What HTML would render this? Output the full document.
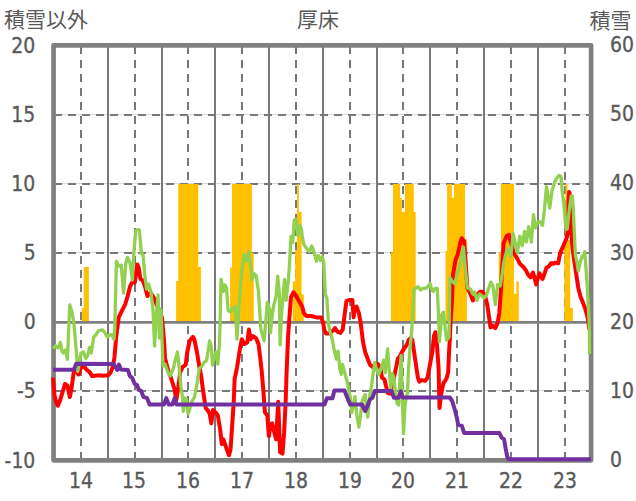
<!DOCTYPE html>
<html><head><meta charset="utf-8"><title>厚床</title>
<style>html,body{margin:0;padding:0;background:#fff;}body{width:636px;height:501px;position:relative;overflow:hidden;}</style>
</head><body>
<svg width="636" height="501" viewBox="0 0 636 501" style="position:absolute;left:0;top:0">
<line x1="56" y1="114.50" x2="589" y2="114.50" stroke="#d9d9d9" stroke-width="1"/>
<line x1="54" y1="115.00" x2="589" y2="115.00" stroke="#787878" stroke-width="2" stroke-dasharray="8 6"/>
<line x1="56" y1="183.50" x2="589" y2="183.50" stroke="#d9d9d9" stroke-width="1"/>
<line x1="54" y1="184.00" x2="589" y2="184.00" stroke="#787878" stroke-width="2" stroke-dasharray="8 6"/>
<line x1="56" y1="252.50" x2="589" y2="252.50" stroke="#d9d9d9" stroke-width="1"/>
<line x1="54" y1="253.00" x2="589" y2="253.00" stroke="#787878" stroke-width="2" stroke-dasharray="8 6"/>
<line x1="56" y1="390.50" x2="589" y2="390.50" stroke="#d9d9d9" stroke-width="1"/>
<line x1="54" y1="391.00" x2="589" y2="391.00" stroke="#787878" stroke-width="2" stroke-dasharray="8 6"/>
<line x1="81.00" y1="45.9" x2="81.00" y2="460" stroke="#787878" stroke-width="2" stroke-dasharray="8 6"/>
<line x1="135.00" y1="45.9" x2="135.00" y2="460" stroke="#787878" stroke-width="2" stroke-dasharray="8 6"/>
<line x1="108.00" y1="46" x2="108.00" y2="460" stroke="#787878" stroke-width="2"/>
<line x1="188.00" y1="45.9" x2="188.00" y2="460" stroke="#787878" stroke-width="2" stroke-dasharray="8 6"/>
<line x1="162.00" y1="46" x2="162.00" y2="460" stroke="#787878" stroke-width="2"/>
<line x1="242.00" y1="45.9" x2="242.00" y2="460" stroke="#787878" stroke-width="2" stroke-dasharray="8 6"/>
<line x1="215.00" y1="46" x2="215.00" y2="460" stroke="#787878" stroke-width="2"/>
<line x1="296.00" y1="45.9" x2="296.00" y2="460" stroke="#787878" stroke-width="2" stroke-dasharray="8 6"/>
<line x1="269.00" y1="46" x2="269.00" y2="460" stroke="#787878" stroke-width="2"/>
<line x1="350.00" y1="45.9" x2="350.00" y2="460" stroke="#787878" stroke-width="2" stroke-dasharray="8 6"/>
<line x1="323.00" y1="46" x2="323.00" y2="460" stroke="#787878" stroke-width="2"/>
<line x1="403.00" y1="45.9" x2="403.00" y2="460" stroke="#787878" stroke-width="2" stroke-dasharray="8 6"/>
<line x1="377.00" y1="46" x2="377.00" y2="460" stroke="#787878" stroke-width="2"/>
<line x1="457.00" y1="45.9" x2="457.00" y2="460" stroke="#787878" stroke-width="2" stroke-dasharray="8 6"/>
<line x1="430.00" y1="46" x2="430.00" y2="460" stroke="#787878" stroke-width="2"/>
<line x1="511.00" y1="45.9" x2="511.00" y2="460" stroke="#787878" stroke-width="2" stroke-dasharray="8 6"/>
<line x1="484.00" y1="46" x2="484.00" y2="460" stroke="#787878" stroke-width="2"/>
<line x1="565.00" y1="45.9" x2="565.00" y2="460" stroke="#787878" stroke-width="2" stroke-dasharray="8 6"/>
<line x1="538.00" y1="46" x2="538.00" y2="460" stroke="#787878" stroke-width="2"/>
<path d="M81.8,321.5 L81.8,308.0 L83.8,308.0 L83.8,267.0 L88.9,267.0 L88.9,321.5 Z" fill="#FFC000"/>
<path d="M176.1,321.5 L176.1,281.0 L178.2,281.0 L178.2,184.0 L198.2,184.0 L198.2,267.0 L200.9,267.0 L200.9,321.5 Z" fill="#FFC000"/>
<path d="M230.1,321.5 L230.1,267.4 L232.0,267.4 L232.0,184.0 L251.9,184.0 L251.9,253.0 L253.7,253.0 L253.7,321.5 Z" fill="#FFC000"/>
<path d="M292.8,321.5 L292.8,281.4 L295.2,281.4 L295.2,250.0 L297.1,250.0 L297.1,184.0 L298.9,184.0 L298.9,212.1 L301.6,212.1 L301.6,294.2 L303.8,294.2 L303.8,321.5 Z" fill="#FFC000"/>
<path d="M391.0,321.5 L391.0,252.4 L393.0,252.4 L393.0,184.0 L400.1,184.0 L400.1,198.0 L401.8,198.0 L401.8,211.9 L404.9,211.9 L404.9,184.0 L413.8,184.0 L413.8,211.9 L415.7,211.9 L415.7,321.5 Z" fill="#FFC000"/>
<path d="M445.5,321.5 L445.5,251.0 L447.1,251.0 L447.1,184.0 L451.8,184.0 L451.8,197.7 L454.1,197.7 L454.1,184.0 L465.0,184.0 L465.0,239.3 L466.9,239.3 L466.9,321.5 Z" fill="#FFC000"/>
<path d="M498.8,321.5 L498.8,252.2 L500.9,252.2 L500.9,184.0 L514.0,184.0 L514.0,293.7 L516.4,293.7 L516.4,281.4 L518.8,281.4 L518.8,321.5 Z" fill="#FFC000"/>
<path d="M564.3,321.5 L564.3,240.0 L565.4,240.0 L565.4,184.0 L567.5,184.0 L567.5,240.0 L570.2,240.0 L570.2,308.1 L572.9,308.1 L572.9,321.5 Z" fill="#FFC000"/>
<line x1="54" y1="322.40" x2="591" y2="322.40" stroke="#7f7f7f" stroke-width="2.8"/>
<rect x="53.55" y="45.3" width="537.55" height="415.05" fill="none" stroke="#808080" stroke-width="4.7" stroke-linejoin="round"/>
<polyline points="53.0,377.7 54.6,396.0 56.2,402.0 57.8,405.8 60.2,400.0 62.6,392.0 65.0,384.0 67.4,385.7 69.8,397.0 71.4,389.0 73.8,372.0 76.2,371.3 78.6,374.5 81.0,367.3 84.2,366.5 86.5,369.7 89.7,372.1 92.1,376.1 94.5,375.8 99.3,375.3 102.5,375.8 108.1,375.3 110.5,372.9 112.9,366.5 114.5,357.0 116.1,337.8 118.8,317.1 122.0,310.7 125.2,304.3 127.6,296.3 130.0,286.7 132.4,281.9 134.8,282.7 137.2,264.4 138.6,267.4 140.4,278.8 142.7,280.4 145.1,286.7 147.4,296.0 150.6,293.0 153.8,297.7 157.0,305.7 159.4,310.5 162.0,318.0 164.0,340.0 165.0,358.0 168.0,370.0 171.0,378.0 174.5,389.0 176.3,400.0 178.0,390.0 180.1,372.7 182.5,367.1 185.7,364.7 187.3,352.0 189.7,340.8 192.9,336.8 194.5,340.0 196.9,352.0 199.3,366.3 200.9,374.3 203.3,392.0 205.7,408.2 207.5,410.0 209.7,413.8 211.3,423.3 213.0,410.0 215.4,412.2 217.8,415.4 220.2,429.7 221.8,444.1 223.4,439.3 226.6,448.9 229.0,455.3 230.6,448.9 232.2,425.0 233.8,401.0 234.6,379.1 237.0,367.9 239.4,352.0 241.8,339.2 244.2,344.0 247.3,342.4 248.9,329.6 250.5,339.2 252.9,336.0 256.1,338.4 258.5,344.0 260.1,356.7 261.7,371.1 263.3,390.0 264.9,412.2 267.3,415.4 268.9,436.1 270.5,425.0 272.1,423.3 274.5,432.9 276.1,439.3 278.2,401.8 280.1,452.1 282.5,453.7 284.1,432.9 285.7,401.0 286.5,375.0 288.1,336.0 289.4,318.0 291.0,297.1 293.4,292.3 295.8,295.5 299.0,301.1 302.2,306.7 303.8,312.8 306.2,316.0 311.0,316.0 314.1,316.8 317.3,317.6 321.3,317.6 322.9,322.0 324.5,330.4 326.1,333.5 329.3,333.5 334.1,329.6 335.0,328.1 337.4,331.7 340.4,332.9 342.8,329.3 344.6,314.9 346.4,301.2 349.4,300.0 352.4,300.0 353.6,317.3 354.8,307.8 356.6,306.6 359.0,313.7 360.7,323.3 363.1,342.5 365.2,352.2 367.6,358.5 370.0,364.9 373.2,367.3 375.6,364.1 378.0,364.1 380.4,368.1 382.0,377.7 384.4,379.3 386.0,385.7 387.6,392.9 390.0,393.7 393.9,377.7 396.3,366.5 397.9,358.5 399.5,357.0 401.9,352.2 404.3,348.2 406.7,345.0 409.1,339.4 410.7,337.8 412.3,340.0 413.9,350.6 415.5,361.7 417.9,377.7 419.5,381.7 421.9,380.1 425.1,380.9 427.5,377.7 429.9,364.9 432.3,352.2 434.0,336.0 435.4,332.2 437.0,344.9 438.6,368.9 439.5,408.0 441.0,395.0 443.4,383.3 446.6,378.5 448.2,372.1 449.0,352.9 449.8,340.1 450.6,321.0 452.0,300.0 453.0,275.0 455.4,260.6 457.8,254.2 460.2,243.0 461.8,238.2 464.1,241.4 465.5,260.0 467.3,287.7 470.5,294.1 472.9,300.5 476.0,296.0 480.1,291.7 482.5,291.7 484.9,294.9 487.3,305.0 488.9,316.2 490.5,327.4 492.9,325.8 495.3,328.2 497.7,322.6 499.3,313.0 500.9,290.9 502.0,270.0 503.6,243.3 506.6,236.1 509.0,234.9 511.4,244.5 513.8,252.9 516.8,257.7 519.8,263.7 523.4,267.0 525.8,270.1 528.2,274.9 530.6,277.3 533.0,272.5 534.6,278.1 536.2,284.5 537.8,278.1 539.4,273.3 542.6,278.9 544.1,274.9 546.5,267.7 548.9,266.2 551.3,263.0 553.7,263.8 555.0,262.6 558.2,263.3 560.2,252.9 563.4,245.8 566.7,238.0 568.2,230.0 568.6,200.0 569.1,192.0 569.7,193.0 570.1,210.0 571.1,230.0 572.3,246.0 574.0,259.0 576.2,274.0 578.3,287.9 580.4,296.3 583.2,303.3 585.3,308.9 587.3,315.9 588.7,324.2 589.4,329.8" fill="none" stroke="#FF0000" stroke-width="4" stroke-linejoin="round" stroke-linecap="butt"/>
<polyline points="53.0,348.5 55.4,345.8 58.0,348.0 60.4,342.5 62.0,351.0 63.4,353.0 65.5,350.0 67.4,359.3 69.8,305.0 72.0,312.0 74.0,324.0 75.4,341.0 77.0,360.0 77.8,371.3 79.5,362.0 81.0,353.0 83.4,352.0 85.7,358.5 87.5,356.0 89.7,347.4 91.3,353.0 93.7,337.0 96.1,334.6 98.5,330.6 102.5,329.8 105.0,333.0 107.3,337.0 109.7,334.6 112.0,335.0 114.0,339.4 114.8,328.3 116.4,261.2 118.8,266.0 121.2,265.2 123.6,293.1 125.7,264.0 127.4,257.4 130.2,263.4 132.4,280.0 134.0,250.0 135.8,230.6 137.0,229.8 139.4,229.8 141.4,253.8 143.0,254.6 145.0,277.0 146.6,289.0 148.5,284.0 151.0,292.0 153.0,310.0 154.6,346.0 156.0,320.0 158.0,295.0 159.4,338.0 161.0,310.0 163.0,366.0 165.0,364.0 167.0,370.0 170.0,376.0 173.0,369.5 175.3,360.0 177.5,352.0 179.3,368.0 180.9,387.0 182.5,396.7 183.3,411.4 184.9,397.8 186.5,400.0 188.1,413.8 189.5,410.0 191.3,402.6 194.5,397.0 196.9,384.0 199.3,368.7 201.7,366.3 204.1,362.3 206.5,360.7 209.7,340.8 211.3,347.0 212.5,365.0 214.6,355.0 216.2,352.0 217.8,364.0 219.4,344.0 220.2,320.0 221.0,279.3 223.4,291.3 225.0,285.0 226.5,288.0 228.2,310.5 230.6,312.0 233.0,308.0 235.4,306.5 237.0,339.0 239.4,301.0 241.8,270.6 244.2,254.6 246.5,261.0 249.0,251.4 250.5,264.2 252.1,280.1 254.2,273.8 256.1,275.4 258.5,291.3 260.9,329.6 264.1,340.8 265.5,325.0 267.3,302.5 269.7,308.9 270.5,332.8 271.5,321.0 273.7,305.7 276.1,296.1 277.7,276.2 279.3,293.0 280.1,344.8 281.7,312.0 283.3,293.0 284.6,279.5 286.2,300.3 288.6,277.9 289.7,261.0 291.0,236.4 292.6,242.8 294.4,220.0 296.2,219.3 297.8,235.3 300.2,225.7 301.5,230.0 302.2,236.4 303.8,244.4 307.0,249.2 309.4,251.6 311.8,246.0 314.1,252.4 316.5,261.2 318.1,255.6 320.5,260.4 322.1,256.4 323.7,262.0 325.3,293.9 326.9,298.7 328.5,324.0 330.1,332.0 331.7,336.7 334.1,349.5 336.5,359.1 338.1,351.1 339.7,368.7 341.3,374.3 342.5,364.5 344.5,371.9 346.9,380.8 350.1,396.7 351.7,412.7 354.9,396.7 356.5,412.7 358.9,427.1 360.5,415.9 362.1,401.5 362.8,399.4 365.2,394.6 367.6,417.0 370.0,394.6 371.6,385.7 373.2,372.9 374.8,362.5 376.4,369.7 378.8,374.5 381.2,368.1 383.6,360.1 385.2,372.9 387.6,349.0 390.7,388.9 392.3,373.7 393.9,377.7 395.5,394.0 397.1,403.3 398.7,405.0 401.1,355.4 403.5,433.7 405.1,404.2 407.5,393.0 408.3,372.9 409.9,349.0 411.5,333.0 413.0,310.0 413.8,290.0 415.7,288.3 418.1,286.7 420.5,290.0 422.9,288.3 425.3,288.3 427.7,286.7 430.1,283.5 431.5,289.0 433.3,291.5 434.9,288.3 437.3,288.3 438.9,325.0 439.4,341.7 441.8,314.6 443.4,312.2 446.6,340.1 449.0,337.0 449.8,277.3 452.2,281.3 454.6,283.7 457.0,274.9 460.2,263.8 463.4,247.0 465.5,270.0 467.3,287.7 470.5,289.3 472.9,294.1 474.5,292.0 476.9,300.5 479.3,294.1 481.7,295.7 484.1,298.1 486.5,294.9 490.8,282.1 492.9,286.1 495.3,304.5 497.7,284.5 500.1,286.1 502.0,275.0 503.6,263.7 505.4,255.3 507.8,248.1 510.8,256.5 513.2,233.7 517.4,252.9 519.8,236.1 522.2,245.7 524.6,231.3 526.3,242.1 528.7,226.6 531.4,242.1 533.5,214.6 535.3,227.8 537.7,222.4 540.1,221.8 542.5,225.4 544.3,211.0 546.5,186.6 548.1,197.0 549.7,208.1 552.1,190.6 554.5,182.6 556.9,177.8 559.3,175.4 560.9,176.2 562.2,191.0 563.8,203.8 566.0,229.0 567.2,229.0 569.5,208.0 571.3,196.0 572.3,196.0 573.4,210.0 574.3,232.0 575.3,255.0 577.0,262.0 578.3,271.2 580.4,261.4 582.2,256.1 583.5,257.0 584.8,251.6 585.9,267.0 587.3,287.9 588.7,313.0 589.4,330.0 589.6,354.0" fill="none" stroke="#92D050" stroke-width="3.3" stroke-linejoin="round" stroke-linecap="butt"/>
<polyline points="53.0,369.7 73.8,369.7 76.2,363.7 113.6,364.0 117.2,370.0 119.0,364.6 120.8,369.4 128.0,370.0 129.8,376.0 132.2,377.8 134.6,383.7 137.0,385.0 138.7,389.7 141.1,390.9 143.5,396.9 147.1,398.1 149.5,404.5 163.9,404.5 166.3,398.1 168.7,404.5 172.3,404.5 174.7,398.1 176.5,404.5 324.5,404.5 326.9,398.3 332.5,398.3 334.4,390.5 344.5,390.5 346.9,396.7 350.1,404.5 362.0,404.5 365.2,411.0 367.6,405.8 370.0,399.4 372.4,397.8 374.8,391.0 391.5,391.0 393.9,397.8 398.5,397.8 400.8,391.4 402.7,397.5 449.8,397.5 452.2,401.0 454.6,409.0 457.0,418.5 458.2,424.9 461.8,425.7 464.1,432.9 499.3,432.9 501.7,437.7 504.1,439.3 505.7,448.9 507.3,456.9 508.9,459.3 591.0,459.3" fill="none" stroke="#7030A0" stroke-width="4" stroke-linejoin="round" stroke-linecap="butt"/>
</svg>
<div style="color:#595959;position:absolute;white-space:nowrap;font-family:'DejaVu Sans Condensed','DejaVu Sans',sans-serif;font-stretch:condensed;font-size:22px;line-height:22px;-webkit-text-stroke:0.35px #595959;right:600.4px;top:34.5px;text-align:right;transform:scaleX(0.95);transform-origin:100% 50%">20</div>
<div style="color:#595959;position:absolute;white-space:nowrap;font-family:'DejaVu Sans Condensed','DejaVu Sans',sans-serif;font-stretch:condensed;font-size:22px;line-height:22px;-webkit-text-stroke:0.35px #595959;right:600.4px;top:103.7px;text-align:right;transform:scaleX(0.95);transform-origin:100% 50%">15</div>
<div style="color:#595959;position:absolute;white-space:nowrap;font-family:'DejaVu Sans Condensed','DejaVu Sans',sans-serif;font-stretch:condensed;font-size:22px;line-height:22px;-webkit-text-stroke:0.35px #595959;right:600.4px;top:172.9px;text-align:right;transform:scaleX(0.95);transform-origin:100% 50%">10</div>
<div style="color:#595959;position:absolute;white-space:nowrap;font-family:'DejaVu Sans Condensed','DejaVu Sans',sans-serif;font-stretch:condensed;font-size:22px;line-height:22px;-webkit-text-stroke:0.35px #595959;right:600.4px;top:242.0px;text-align:right;transform:scaleX(0.95);transform-origin:100% 50%">5</div>
<div style="color:#595959;position:absolute;white-space:nowrap;font-family:'DejaVu Sans Condensed','DejaVu Sans',sans-serif;font-stretch:condensed;font-size:22px;line-height:22px;-webkit-text-stroke:0.35px #595959;right:600.4px;top:311.2px;text-align:right;transform:scaleX(0.95);transform-origin:100% 50%">0</div>
<div style="color:#595959;position:absolute;white-space:nowrap;font-family:'DejaVu Sans Condensed','DejaVu Sans',sans-serif;font-stretch:condensed;font-size:22px;line-height:22px;-webkit-text-stroke:0.35px #595959;right:600.4px;top:380.4px;text-align:right;transform:scaleX(0.95);transform-origin:100% 50%">-5</div>
<div style="color:#595959;position:absolute;white-space:nowrap;font-family:'DejaVu Sans Condensed','DejaVu Sans',sans-serif;font-stretch:condensed;font-size:22px;line-height:22px;-webkit-text-stroke:0.35px #595959;right:600.4px;top:449.6px;text-align:right;transform:scaleX(0.95);transform-origin:100% 50%">-10</div>
<div style="color:#595959;position:absolute;white-space:nowrap;font-family:'DejaVu Sans Condensed','DejaVu Sans',sans-serif;font-stretch:condensed;font-size:22px;line-height:22px;-webkit-text-stroke:0.35px #595959;left:610.3px;top:34.0px;transform:scaleX(0.95);transform-origin:0 50%">60</div>
<div style="color:#595959;position:absolute;white-space:nowrap;font-family:'DejaVu Sans Condensed','DejaVu Sans',sans-serif;font-stretch:condensed;font-size:22px;line-height:22px;-webkit-text-stroke:0.35px #595959;left:610.3px;top:103.2px;transform:scaleX(0.95);transform-origin:0 50%">50</div>
<div style="color:#595959;position:absolute;white-space:nowrap;font-family:'DejaVu Sans Condensed','DejaVu Sans',sans-serif;font-stretch:condensed;font-size:22px;line-height:22px;-webkit-text-stroke:0.35px #595959;left:610.3px;top:172.4px;transform:scaleX(0.95);transform-origin:0 50%">40</div>
<div style="color:#595959;position:absolute;white-space:nowrap;font-family:'DejaVu Sans Condensed','DejaVu Sans',sans-serif;font-stretch:condensed;font-size:22px;line-height:22px;-webkit-text-stroke:0.35px #595959;left:610.3px;top:241.5px;transform:scaleX(0.95);transform-origin:0 50%">30</div>
<div style="color:#595959;position:absolute;white-space:nowrap;font-family:'DejaVu Sans Condensed','DejaVu Sans',sans-serif;font-stretch:condensed;font-size:22px;line-height:22px;-webkit-text-stroke:0.35px #595959;left:610.3px;top:310.7px;transform:scaleX(0.95);transform-origin:0 50%">20</div>
<div style="color:#595959;position:absolute;white-space:nowrap;font-family:'DejaVu Sans Condensed','DejaVu Sans',sans-serif;font-stretch:condensed;font-size:22px;line-height:22px;-webkit-text-stroke:0.35px #595959;left:610.3px;top:379.9px;transform:scaleX(0.95);transform-origin:0 50%">10</div>
<div style="color:#595959;position:absolute;white-space:nowrap;font-family:'DejaVu Sans Condensed','DejaVu Sans',sans-serif;font-stretch:condensed;font-size:22px;line-height:22px;-webkit-text-stroke:0.35px #595959;left:610.3px;top:449.1px;transform:scaleX(0.95);transform-origin:0 50%">0</div>
<div style="color:#595959;position:absolute;white-space:nowrap;font-family:'DejaVu Sans Condensed','DejaVu Sans',sans-serif;font-stretch:condensed;font-size:22px;line-height:22px;-webkit-text-stroke:0.35px #595959;left:61.3px;top:470.3px;width:40px;text-align:center;transform:scaleX(0.95)">14</div>
<div style="color:#595959;position:absolute;white-space:nowrap;font-family:'DejaVu Sans Condensed','DejaVu Sans',sans-serif;font-stretch:condensed;font-size:22px;line-height:22px;-webkit-text-stroke:0.35px #595959;left:114.1px;top:470.3px;width:40px;text-align:center;transform:scaleX(0.95)">15</div>
<div style="color:#595959;position:absolute;white-space:nowrap;font-family:'DejaVu Sans Condensed','DejaVu Sans',sans-serif;font-stretch:condensed;font-size:22px;line-height:22px;-webkit-text-stroke:0.35px #595959;left:168.3px;top:470.3px;width:40px;text-align:center;transform:scaleX(0.95)">16</div>
<div style="color:#595959;position:absolute;white-space:nowrap;font-family:'DejaVu Sans Condensed','DejaVu Sans',sans-serif;font-stretch:condensed;font-size:22px;line-height:22px;-webkit-text-stroke:0.35px #595959;left:222.3px;top:470.3px;width:40px;text-align:center;transform:scaleX(0.95)">17</div>
<div style="color:#595959;position:absolute;white-space:nowrap;font-family:'DejaVu Sans Condensed','DejaVu Sans',sans-serif;font-stretch:condensed;font-size:22px;line-height:22px;-webkit-text-stroke:0.35px #595959;left:276.3px;top:470.3px;width:40px;text-align:center;transform:scaleX(0.95)">18</div>
<div style="color:#595959;position:absolute;white-space:nowrap;font-family:'DejaVu Sans Condensed','DejaVu Sans',sans-serif;font-stretch:condensed;font-size:22px;line-height:22px;-webkit-text-stroke:0.35px #595959;left:330.3px;top:470.3px;width:40px;text-align:center;transform:scaleX(0.95)">19</div>
<div style="color:#595959;position:absolute;white-space:nowrap;font-family:'DejaVu Sans Condensed','DejaVu Sans',sans-serif;font-stretch:condensed;font-size:22px;line-height:22px;-webkit-text-stroke:0.35px #595959;left:383.3px;top:470.3px;width:40px;text-align:center;transform:scaleX(0.95)">20</div>
<div style="color:#595959;position:absolute;white-space:nowrap;font-family:'DejaVu Sans Condensed','DejaVu Sans',sans-serif;font-stretch:condensed;font-size:22px;line-height:22px;-webkit-text-stroke:0.35px #595959;left:437.3px;top:470.3px;width:40px;text-align:center;transform:scaleX(0.95)">21</div>
<div style="color:#595959;position:absolute;white-space:nowrap;font-family:'DejaVu Sans Condensed','DejaVu Sans',sans-serif;font-stretch:condensed;font-size:22px;line-height:22px;-webkit-text-stroke:0.35px #595959;left:491.3px;top:470.3px;width:40px;text-align:center;transform:scaleX(0.95)">22</div>
<div style="color:#595959;position:absolute;white-space:nowrap;font-family:'DejaVu Sans Condensed','DejaVu Sans',sans-serif;font-stretch:condensed;font-size:22px;line-height:22px;-webkit-text-stroke:0.35px #595959;left:545.3px;top:470.3px;width:40px;text-align:center;transform:scaleX(0.95)">23</div>
<div style="color:#595959;position:absolute;white-space:nowrap;font-family:'Liberation Sans','Noto Sans CJK JP',sans-serif;font-size:21px;line-height:21px;left:4px;top:9.4px">積雪以外</div>
<div style="color:#595959;position:absolute;white-space:nowrap;font-family:'Liberation Sans','Noto Sans CJK JP',sans-serif;font-size:21px;line-height:21px;left:297px;top:8.5px">厚床</div>
<div style="color:#595959;position:absolute;white-space:nowrap;font-family:'Liberation Sans','Noto Sans CJK JP',sans-serif;font-size:21px;line-height:21px;left:589.5px;top:9.8px">積雪</div>
</body></html>
